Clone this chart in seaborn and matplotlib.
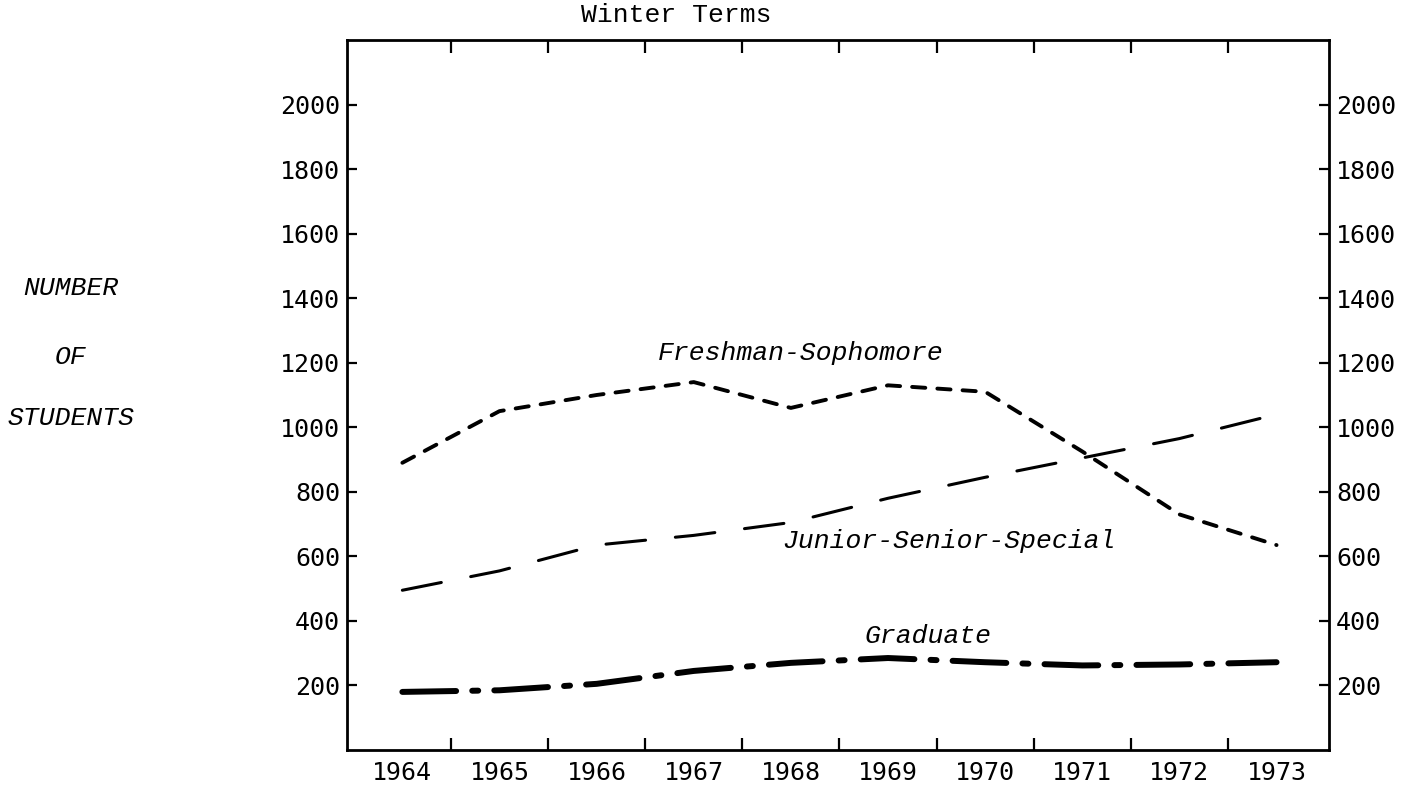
import numpy as np
import pandas as pd
import seaborn as sns
import matplotlib.pyplot as plt

years = [1964, 1965, 1966, 1967, 1968, 1969, 1970, 1971, 1972, 1973]
freshman_sophomore = [890, 1050, 1100, 1140, 1060, 1130, 1110, 925, 730, 635]
junior_senior_special = [495, 555, 635, 665, 705, 780, 845, 905, 965, 1040]
graduate = [180, 185, 205, 245, 270, 285, 272, 262, 265, 272]
groups = ["Freshman-Sophomore", "Junior-Senior-Special", "Graduate"]
y_ticks = [200, 400, 600, 800, 1000, 1200, 1400, 1600, 1800, 2000]

data = pd.DataFrame({
    "Year": years * 3,
    "Students": freshman_sophomore + junior_senior_special + graduate,
    "Group": [g for g in groups for _ in years],
})

sns.set_theme(style="white")
plt.rcParams["font.family"] = ["DejaVu Sans Mono", "DejaVu Sans"]
plt.rcParams["text.color"] = "black"
plt.rcParams["xtick.color"] = "black"
plt.rcParams["ytick.color"] = "black"
plt.rcParams["xtick.labelcolor"] = "black"
plt.rcParams["ytick.labelcolor"] = "black"

fig = plt.figure(figsize=(14.19, 7.87), dpi=100)
ax = fig.add_axes([347 / 1419, 1 - 750 / 787, (1329 - 347) / 1419, (750 - 40) / 787])

# dash patterns in linewidth units (round caps eat into the gaps)
dash_map = {
    "Freshman-Sophomore": (3.4, 3.1),
    "Junior-Senior-Special": (13, 9.8),
    "Graduate": (9, 2.7, 1, 2.7),
}
sns.lineplot(data, x="Year", y="Students", hue="Group", style="Group",
             palette=["black"] * 3, dashes=dash_map, legend=False, ax=ax)

widths = [2.8, 2.2, 4.3]
for i, line in enumerate(ax.lines):
    line.set_linewidth(widths[i])
    line.set_dashes(dash_map[groups[i]])
    line.set_dash_capstyle("round")

ax.set_xlim(1963.43, 1973.54)
ax.set_ylim(0, 2200)
ax.set_xlabel("")
ax.set_ylabel("")

ax.set_xticks(years)
ax.set_xticklabels([str(y) for y in years])
ax.set_xticks([y + 0.5 for y in years[:-1]], minor=True)
ax.tick_params(axis="x", which="major", length=0, pad=8, labelsize=18)
ax.tick_params(axis="x", which="minor", bottom=True, top=True, direction="in",
               length=9, width=1.6, color="black")

ax.set_yticks(y_ticks)
ax.set_yticklabels([str(v) for v in y_ticks])
ax.tick_params(axis="y", which="major", left=True, right=True, labelleft=True,
               labelright=True, direction="in", length=7, width=1.6,
               color="black", pad=5, labelsize=18)

for s in ax.spines.values():
    s.set_color("black")
    s.set_linewidth(2.0)

typewriter = ["Liberation Mono", "DejaVu Sans Mono"]
fig.text(676 / 1419, 1 - 15 / 787, "Winter Terms", ha="center", va="center",
         fontsize=19, family=typewriter)

for label, ypix in [("NUMBER", 288), ("OF", 357), ("STUDENTS", 418)]:
    fig.text(71 / 1419, 1 - ypix / 787, label, ha="center", va="center",
             fontsize=19, style="italic", family=typewriter)

ax.text(1968.10, 1229, "Freshman-Sophomore", ha="center", va="center",
        fontsize=19, style="italic", family=typewriter)
ax.text(1969.63, 647, "Junior-Senior-Special", ha="center", va="center",
        fontsize=19, style="italic", family=typewriter)
ax.text(1969.41, 352, "Graduate", ha="center", va="center",
        fontsize=19, style="italic", family=typewriter)

fig.savefig("out.png", dpi=100)
